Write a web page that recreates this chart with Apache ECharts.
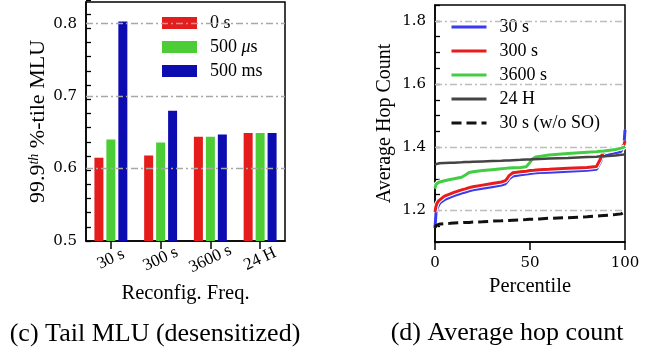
<!DOCTYPE html>
<html><head><meta charset="utf-8">
<script src="https://cdn.jsdelivr.net/npm/echarts@6/dist/echarts.min.js"></script>
<style>html,body{margin:0;padding:0;background:#fff}#c{width:658px;height:354px}</style>
</head><body><div id="c"></div>
<script>
// ---- Left chart data: 99.9th %-tile MLU ----
const freqCategories = ['30 s', '300 s', '3600 s', '24 H'];
const delayNames = ['0 s', '500 μs', '500 ms'];
const mlu0s    = [0.615, 0.618, 0.644, 0.649];
const mlu500us = [0.640, 0.636, 0.644, 0.649];
const mlu500ms = [0.803, 0.680, 0.647, 0.649];
const mluTicks = [0.5, 0.6, 0.7, 0.8];
const mluGrid  = [0.6, 0.7, 0.8];

// ---- Right chart data: Average hop count ----
const hopNames = ['30 s', '300 s', '3600 s', '24 H', '30 s (w/o SO)'];
const percentiles = [0, 0.5, 1, 2, 3, 5, 8, 10, 14, 15, 16, 17, 18, 20, 25, 30, 35, 37, 38, 39, 40, 41, 45, 48, 49, 50, 51, 52, 53, 55, 60, 70, 80, 85, 86, 87, 88, 89, 90, 95, 98, 99, 99.5, 100];
const hop30s   = [1.145, 1.19, 1.205, 1.218, 1.226, 1.234, 1.242, 1.247, 1.255, 1.257, 1.258, 1.26, 1.262, 1.265, 1.27, 1.275, 1.28, 1.284, 1.291, 1.3, 1.306, 1.309, 1.313, 1.315, 1.316, 1.317, 1.318, 1.318, 1.319, 1.32, 1.321, 1.324, 1.327, 1.33, 1.336, 1.352, 1.368, 1.374, 1.377, 1.382, 1.387, 1.393, 1.41, 1.455];
const hop300s  = [1.195, 1.212, 1.222, 1.231, 1.237, 1.245, 1.252, 1.257, 1.265, 1.267, 1.268, 1.27, 1.272, 1.275, 1.28, 1.285, 1.29, 1.294, 1.301, 1.31, 1.316, 1.319, 1.322, 1.324, 1.325, 1.326, 1.327, 1.327, 1.328, 1.329, 1.33, 1.333, 1.336, 1.339, 1.345, 1.362, 1.378, 1.385, 1.388, 1.393, 1.398, 1.403, 1.408, 1.42];
const hop3600s = [1.27, 1.282, 1.286, 1.289, 1.291, 1.294, 1.298, 1.3, 1.305, 1.307, 1.312, 1.317, 1.32, 1.322, 1.326, 1.329, 1.332, 1.333, 1.333, 1.334, 1.334, 1.335, 1.336, 1.338, 1.342, 1.352, 1.362, 1.367, 1.369, 1.371, 1.375, 1.38, 1.384, 1.386, 1.386, 1.387, 1.387, 1.388, 1.389, 1.393, 1.397, 1.399, 1.4, 1.402];
const hop24h   = [1.345, 1.347, 1.348, 1.349, 1.349, 1.35, 1.351, 1.351, 1.352, 1.352, 1.353, 1.353, 1.353, 1.354, 1.355, 1.356, 1.357, 1.358, 1.358, 1.358, 1.359, 1.359, 1.36, 1.361, 1.361, 1.361, 1.362, 1.362, 1.362, 1.363, 1.364, 1.366, 1.369, 1.37, 1.37, 1.371, 1.371, 1.371, 1.372, 1.374, 1.376, 1.377, 1.377, 1.379];
const hop30sNoSO = [1.145, 1.152, 1.155, 1.156, 1.157, 1.158, 1.159, 1.16, 1.161, 1.161, 1.162, 1.162, 1.162, 1.163, 1.164, 1.166, 1.167, 1.168, 1.168, 1.168, 1.169, 1.169, 1.17, 1.171, 1.171, 1.172, 1.172, 1.172, 1.173, 1.173, 1.175, 1.177, 1.18, 1.182, 1.182, 1.183, 1.183, 1.184, 1.185, 1.187, 1.189, 1.191, 1.194, 1.2];
const hopTicks = [1.2, 1.4, 1.6, 1.8];
const hopGrid  = [1.2, 1.4, 1.6, 1.8];
const pctTicks = [0, 50, 100];

const SERIF = '"Liberation Serif", "DejaVu Serif", serif';
const MATH = '"DejaVu Serif", serif';

const barColors = ['#e41c1c', '#4ccd35', '#0c0cb0'];
const lineColors = ['#3a3aee', '#e81c1c', '#44cc44', '#444444', '#111111'];

// left panel geometry
const L = { left: 86, top: 2, width: 199, height: 239, min: 0.5, max: 0.83 };
// tick companion grid: same scale, extended to 0.84 so 0.02 ticks divide evenly
const tickMax = 0.84;
const extra = (tickMax - L.max) / (L.max - L.min) * L.height;

function pickLabel(ticks) {
  return function (v) {
    const t = ticks.find(x => Math.abs(x - v) < 1e-6);
    return t === undefined ? '' : t.toFixed(1);
  };
}
function gridMarkLine(vals, color) {
  return {
    silent: true, symbol: 'none', label: { show: false },
    lineStyle: { type: [7, 3, 2, 3], color: color, width: 1.3 },
    data: vals.map(v => ({ yAxis: v }))
  };
}

const chart = echarts.init(document.getElementById('c'), null, { renderer: 'canvas' });
const hopSeries = [hop30s, hop300s, hop3600s, hop24h, hop30sNoSO];

const lineSeries = [];
hopSeries.forEach((vals, i) => {
  const data = percentiles.map((p, j) => [p, vals[j]]);
  if (i < 3) {
    lineSeries.push({
      type: 'line', xAxisIndex: 1, yAxisIndex: 1, data: data, symbol: 'none', silent: true,
      z: 3 + i * 2, lineStyle: { color: '#ffffff', width: 5 }
    });
  }
  lineSeries.push({
    name: hopNames[i], type: 'line', xAxisIndex: 1, yAxisIndex: 1, data: data,
    symbol: 'none', z: 4 + i * 2,
    itemStyle: { color: lineColors[i] },
    lineStyle: { color: lineColors[i], width: i === 3 ? 2.5 : 3, type: i === 4 ? [10, 5] : 'solid' }
  });
});

chart.setOption({
  animation: false,
  backgroundColor: '#fff',
  grid: [
    { left: L.left, top: L.top, width: L.width, height: L.height, show: true, borderColor: '#000', borderWidth: 1.5, backgroundColor: 'transparent' },
    { left: 435, top: 5, width: 190, height: 237, show: true, borderColor: '#000', borderWidth: 1.5, backgroundColor: 'transparent' },
    { left: L.left, top: L.top - extra, width: L.width, height: L.height + extra, show: false }
  ],
  xAxis: [
    {
      type: 'category', gridIndex: 0, data: freqCategories,
      axisLine: { lineStyle: { color: '#000', width: 1.5 } },
      axisTick: { show: true, alignWithLabel: true, length: 8, lineStyle: { color: '#000', width: 1.5 } },
      axisLabel: { interval: 0, hideOverlap: false, rotate: 25, align: 'center', verticalAlign: 'middle', margin: 18, fontFamily: SERIF, fontSize: 17, color: '#000' },
      name: 'Reconfig. Freq.', nameLocation: 'middle', nameGap: 42,
      nameTextStyle: { fontFamily: SERIF, fontSize: 20.5, color: '#000' }
    },
    {
      type: 'value', gridIndex: 1, min: 0, max: 100, interval: 50,
      axisLine: { lineStyle: { color: '#000', width: 1.5 } },
      axisTick: { show: true, length: 8, lineStyle: { color: '#000', width: 1.5 } },
      axisLabel: { margin: 14, fontFamily: MATH, fontSize: 15, color: '#000',
        formatter: v => pctTicks.includes(v) ? String(v) : '' },
      splitLine: { show: false },
      name: 'Percentile', nameLocation: 'middle', nameGap: 34,
      nameTextStyle: { fontFamily: SERIF, fontSize: 20.5, color: '#000' }
    },
    {
      type: 'value', gridIndex: 2, min: 0, max: 1, show: false
    }
  ],
  yAxis: [
    {
      type: 'value', gridIndex: 0, min: L.min, max: L.max, interval: 0.1,
      axisLine: { show: true, lineStyle: { color: '#000', width: 1.5 } },
      axisTick: { show: false },
      axisLabel: { show: true, margin: 9, fontFamily: MATH, fontSize: 15, color: '#000', formatter: pickLabel(mluTicks) },
      splitLine: { show: false },
      name: '99.9{sup|th} %-tile MLU', nameLocation: 'middle', nameGap: 29, nameRotate: 90,
      nameTextStyle: { fontFamily: SERIF, fontSize: 22, color: '#000',
        rich: { sup: { fontFamily: SERIF, fontStyle: 'italic', fontSize: 14, verticalAlign: 'top', lineHeight: 22 } } }
    },
    {
      type: 'value', gridIndex: 1, min: 1.1, max: 1.85, interval: 0.05,
      axisLine: { show: true, lineStyle: { color: '#000', width: 1.5 } },
      axisTick: { show: true, inside: true, length: 5, lineStyle: { color: '#000', width: 1.3 } },
      axisLabel: { show: true, margin: 9, fontFamily: MATH, fontSize: 15, color: '#000', formatter: pickLabel(hopTicks) },
      splitLine: { show: false },
      name: 'Average Hop Count', nameLocation: 'middle', nameGap: 40, nameRotate: 90,
      nameTextStyle: { fontFamily: SERIF, fontSize: 20, color: '#000' }
    },
    {
      // tick-only companion axis for the left panel (inner ticks every 0.02)
      type: 'value', gridIndex: 2, position: 'left', min: L.min, max: tickMax, interval: 0.02,
      axisLine: { show: false },
      axisTick: { show: true, inside: true, length: 5, lineStyle: { color: '#000', width: 1.3 } },
      axisLabel: { show: false },
      splitLine: { show: false }
    }
  ],
  legend: [
    {
      data: delayNames, orient: 'vertical', left: 162, top: 14, padding: 0, itemGap: 6,
      itemWidth: 35, itemHeight: 12, icon: 'rect',
      formatter: n => n.replace('μ', '{i|μ}'),
      textStyle: { fontFamily: SERIF, fontSize: 18, lineHeight: 18, color: '#000', padding: [0, 0, 0, 8],
        rich: { i: { fontFamily: SERIF, fontStyle: 'italic', fontSize: 18, lineHeight: 18 } } }
    },
    {
      data: hopNames, orient: 'vertical', left: 450, top: 18, padding: 0, itemGap: 6,
      itemWidth: 35, itemHeight: 14,
      itemStyle: { color: 'rgba(0,0,0,0)', borderWidth: 0, opacity: 0 },
      lineStyle: { width: 3, opacity: 1 },
      textStyle: { fontFamily: SERIF, fontSize: 18, lineHeight: 18, color: '#000', padding: [0, 0, 0, 8] }
    }
  ],
  series: [
    { type: 'line', xAxisIndex: 0, yAxisIndex: 0, data: freqCategories.map(() => '-'), z: 1,
      symbol: 'none', silent: true, markLine: gridMarkLine(mluGrid, '#a8a8a8') },
    { type: 'line', xAxisIndex: 1, yAxisIndex: 1, data: [], z: 1,
      symbol: 'none', silent: true, markLine: gridMarkLine(hopGrid, '#bdbdbd') },
    ...[mlu0s, mlu500us, mlu500ms].map((vals, i) => ({
      name: delayNames[i], type: 'bar', xAxisIndex: 0, yAxisIndex: 0, data: vals,
      barWidth: 9, barGap: '33%', z: 2, itemStyle: { color: barColors[i] }
    })),
    ...lineSeries
  ],
  graphic: [
    { type: 'text', style: { text: '(c) Tail MLU (desensitized)', x: 155, y: 334, align: 'center', verticalAlign: 'middle',
      fontFamily: SERIF, fontSize: 26, fill: '#000' } },
    { type: 'text', style: { text: '(d) Average hop count', x: 507, y: 333, align: 'center', verticalAlign: 'middle',
      fontFamily: SERIF, fontSize: 26, fill: '#000' } }
  ]
});
</script></body></html>
